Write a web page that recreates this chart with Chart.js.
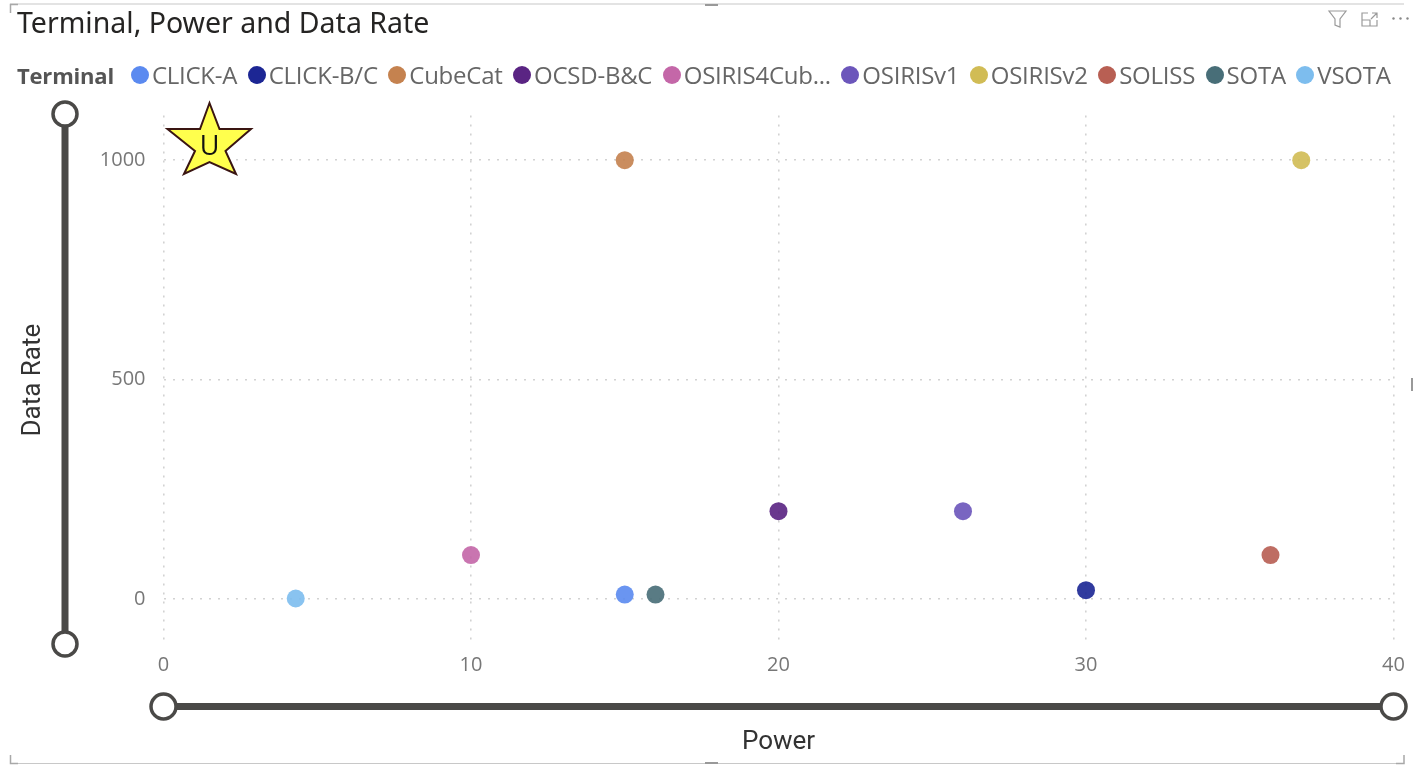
<!DOCTYPE html>
<html lang="en">
<head>
<meta charset="UTF-8">
<title>Terminal, Power and Data Rate</title>
<script src="https://cdn.jsdelivr.net/npm/chart.js"></script>
<style>
    html, body { margin: 0; padding: 0; background: #fff; width: 1414px; height: 766px; overflow: hidden; }
    #wrap { position: relative; width: 1414px; height: 766px; }
    #chart { position: absolute; left: 0; top: 0; }
    #overlay { position: absolute; left: 0; top: 0; pointer-events: none; }
    #legend { position: absolute; left: 17px; top: 60px; display: flex; align-items: center; white-space: nowrap;
              font-family: "Open Sans", sans-serif; font-size: 24px; color: #666; line-height: 30px; letter-spacing: -0.25px; }
    #legend b { color: #555; margin-right: 17px; font-size: 22px; letter-spacing: -0.2px; }
    #legend .item { display: flex; align-items: center; margin-right: 10.5px; }
    #legend i { display: block; width: 18px; height: 18px; border-radius: 50%; margin-right: 3px; }
</style>
</head>
<body>
<div id="wrap">
    <canvas id="chart" width="1414" height="766"></canvas>
    <div id="legend"></div>
    <svg id="overlay" width="1414" height="766">
        <!-- visual frame -->
        <path d="M10 4H1404M10 763.5H1404" stroke="#c8c8c8" stroke-width="1.2" fill="none"/>
        <path d="M10.5 13V4.5H18M10.5 755V763.5H18M1404 755V763.5H1396" stroke="#a8a8a8" stroke-width="1.5" fill="none"/>
        <path d="M705 5H718M705 763H718" stroke="#999" stroke-width="2"/>
        <path d="M1412 378V391" stroke="#777" stroke-width="1.5"/>
        <!-- header icons -->
        <path d="M1329 11H1346L1340 19V27L1335 25V19Z" fill="none" stroke="#9a9a9a" stroke-width="1.2"/>
        <path d="M1368 13H1362V26H1377V20M1362 20H1370V26M1371 19L1377 13M1372 13H1377V18" fill="none" stroke="#9a9a9a" stroke-width="1.2"/>
        <g fill="#888"><circle cx="1393.5" cy="18.5" r="1.2"/><circle cx="1400.5" cy="18.5" r="1.2"/><circle cx="1407.5" cy="18.5" r="1.2"/></g>
        <!-- y range slider -->
        <path d="M65 125V633" stroke="#4a4947" stroke-width="7"/>
        <circle cx="65" cy="114" r="12" fill="#fff" stroke="#4a4947" stroke-width="3.5"/>
        <circle cx="65" cy="644" r="12" fill="#fff" stroke="#4a4947" stroke-width="3.5"/>
        <!-- x range slider -->
        <path d="M176 706.5H1381" stroke="#4a4947" stroke-width="7"/>
        <circle cx="163.5" cy="706.5" r="12.5" fill="#fff" stroke="#4a4947" stroke-width="3.5"/>
        <circle cx="1393.5" cy="706.5" r="12.5" fill="#fff" stroke="#4a4947" stroke-width="3.5"/>
        <!-- star -->
        <path d="M209.5 103L219.5 129H251L225.5 151L236 174L209.5 162L184 174L195 151L167.5 129H200Z" fill="#ffff4d" stroke="#3a1512" stroke-width="2"/>
        <text x="209.5" y="155" text-anchor="middle" font-family="Open Sans, sans-serif" font-size="27" fill="#111">U</text>
    </svg>
</div>
<script>
const terminals = ['CLICK-A', 'CLICK-B/C', 'CubeCat', 'OCSD-B&C', 'OSIRIS4CubeSat', 'OSIRISv1', 'OSIRISv2', 'SOLISS', 'SOTA', 'VSOTA'];
const legendLabels = ['CLICK-A', 'CLICK-B/C', 'CubeCat', 'OCSD-B&C', 'OSIRIS4Cub...', 'OSIRISv1', 'OSIRISv2', 'SOLISS', 'SOTA', 'VSOTA'];
const power = [15, 30, 15, 20, 10, 26, 37, 36, 16, 4.3];
const dataRate = [10, 20, 1000, 200, 100, 200, 1000, 100, 10, 1];
const colors = ['#5b8af0', '#1c2694', '#c5824f', '#5a2483', '#c467a8', '#6c56bb', '#d1bc55', '#b85f53', '#486e78', '#7dbdee'];
const xTicks = [0, 10, 20, 30, 40];
const yTicks = [0, 500, 1000];

const datasets = terminals.map((name, i) => ({
    label: name,
    data: [{ x: power[i], y: dataRate[i] }],
    backgroundColor: colors[i] + 'e8',
    borderWidth: 0,
    pointRadius: 9
}));

// legend row, same order as the series
const legend = document.getElementById('legend');
legend.innerHTML = '<b>Terminal</b>' + legendLabels.map((name, i) =>
    `<span class="item"><i style="background:${colors[i]}"></i>${name.replace('&', '&amp;')}</span>`).join('');

const dotted = { color: '#d2d2d2', lineWidth: 1.6, drawTicks: false };

new Chart(document.getElementById('chart'), {
    type: 'scatter',
    data: { datasets: datasets },
    options: {
        responsive: false,
        animation: false,
        layout: { padding: { left: 17, right: 20.5, top: 0, bottom: 8 } },
        plugins: {
            legend: { display: false },
            tooltip: { enabled: false },
            title: {
                display: true,
                text: 'Terminal, Power and Data Rate',
                align: 'start',
                color: '#252423',
                font: { family: 'Noto Sans', size: 28.5, weight: 'normal' },
                padding: { top: 8, bottom: 73.2 }
            }
        },
        scales: {
            x: {
                type: 'linear',
                min: 0,
                max: 40,
                afterBuildTicks: axis => { axis.ticks = xTicks.map(v => ({ value: v })); },
                afterFit: axis => { axis.height = 113; },
                border: { display: false, dash: [2, 7] },
                grid: dotted,
                ticks: { color: '#777', padding: 8, maxRotation: 0, callback: v => String(v), font: { family: 'Open Sans', size: 20 } },
                title: { display: true, text: 'Power', color: '#333', padding: { top: 40, bottom: 0 }, font: { family: 'Roboto', size: 26 } }
            },
            y: {
                type: 'linear',
                min: -105,
                max: 1102,
                afterBuildTicks: axis => { axis.ticks = yTicks.map(v => ({ value: v })); },
                afterFit: axis => { axis.width = 146.5; },
                border: { display: false, dash: [2, 7] },
                grid: dotted,
                ticks: { color: '#777', padding: 18, callback: v => String(v), font: { family: 'Open Sans', size: 20 } },
                title: { display: true, text: 'Data Rate', color: '#333', padding: { top: 1, bottom: 0 }, font: { family: 'Roboto', size: 26 } }
            }
        }
    }
});
</script>
</body>
</html>
